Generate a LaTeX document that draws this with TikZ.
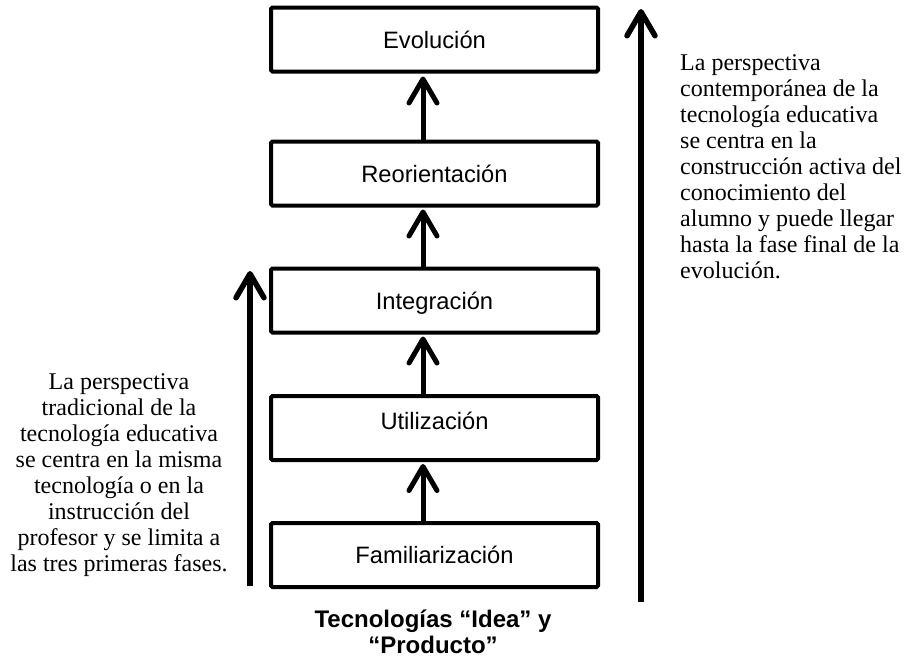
\documentclass[tikz,border=0pt]{standalone}
\usepackage{fontspec}
\setmainfont{Liberation Serif}
\newfontfamily\boxfont{Liberation Sans}
\usetikzlibrary{arrows.meta}
\begin{document}
\begin{tikzpicture}[x=1pt,y=-1pt,
  phase/.style={draw, line width=4pt, rounded corners=1.5pt, minimum width=327pt, minimum height=64pt,
    inner sep=0pt, outer sep=0pt, font=\boxfont\fontsize{23.7}{27}\selectfont, text height=17pt, text depth=0pt},
  barb/.style={-{Straight Barb[length=24pt,width=28pt,round]}},
  uparrow/.style={barb, line width=5pt},
  longarrow/.style={barb, line width=5.5pt},
  note/.style={font=\fontsize{24}{26}\selectfont, inner sep=0pt},
  caption/.style={font=\boxfont\bfseries\fontsize{24}{26}\selectfont, inner sep=0pt, align=center}
]
\useasboundingbox (0,0) rectangle (906,657);
\node[phase] (evo) at (434.5,39.5) {Evolución};
\node[phase] (reo) at (434.5,173.5) {Reorientación};
\node[phase] (int) at (434.5,300.5) {Integración};
\node[phase] (uti) at (434.5,428) {\raisebox{7pt}[\height][\depth]{Utilización}};
\node[phase] (fam) at (434.5,555) {Familiarización};

\draw[uparrow] ([xshift=-11.5pt]fam.north) -- ([xshift=-11.5pt,yshift=-4pt]uti.south);
\draw[uparrow] ([xshift=-11.5pt]uti.north) -- ([xshift=-11.5pt,yshift=-4pt]int.south);
\draw[uparrow] ([xshift=-11.5pt]int.north) -- ([xshift=-11.5pt,yshift=-4pt]reo.south);
\draw[uparrow] ([xshift=-11.5pt]reo.north) -- ([xshift=-11.5pt,yshift=-5pt]evo.south);

\coordinate (l0) at (250,586);
\coordinate (l1) at (250,271);
\coordinate (r0) at (641,602);
\coordinate (r1) at (641,9);
\draw[longarrow] (l0) -- (l1);
\draw[longarrow] (r0) -- (r1);

\node[note, align=center] (left) at (119,475) {La perspectiva\\tradicional de la\\tecnología educativa\\se centra en la misma\\tecnología o en la\\instrucción del\\profesor y se limita a\\las tres primeras fases.};
\node[note, align=left, anchor=west] (right) at (680,167) {La perspectiva\\contemporánea de la\\tecnología educativa\\se centra en la\\construcción activa del\\conocimiento del\\alumno y puede llegar\\hasta la fase final de la\\evolución.};
\node[caption] (cap) at (433,632) {Tecnologías “Idea” y\\“Producto”};
\end{tikzpicture}
\end{document}
